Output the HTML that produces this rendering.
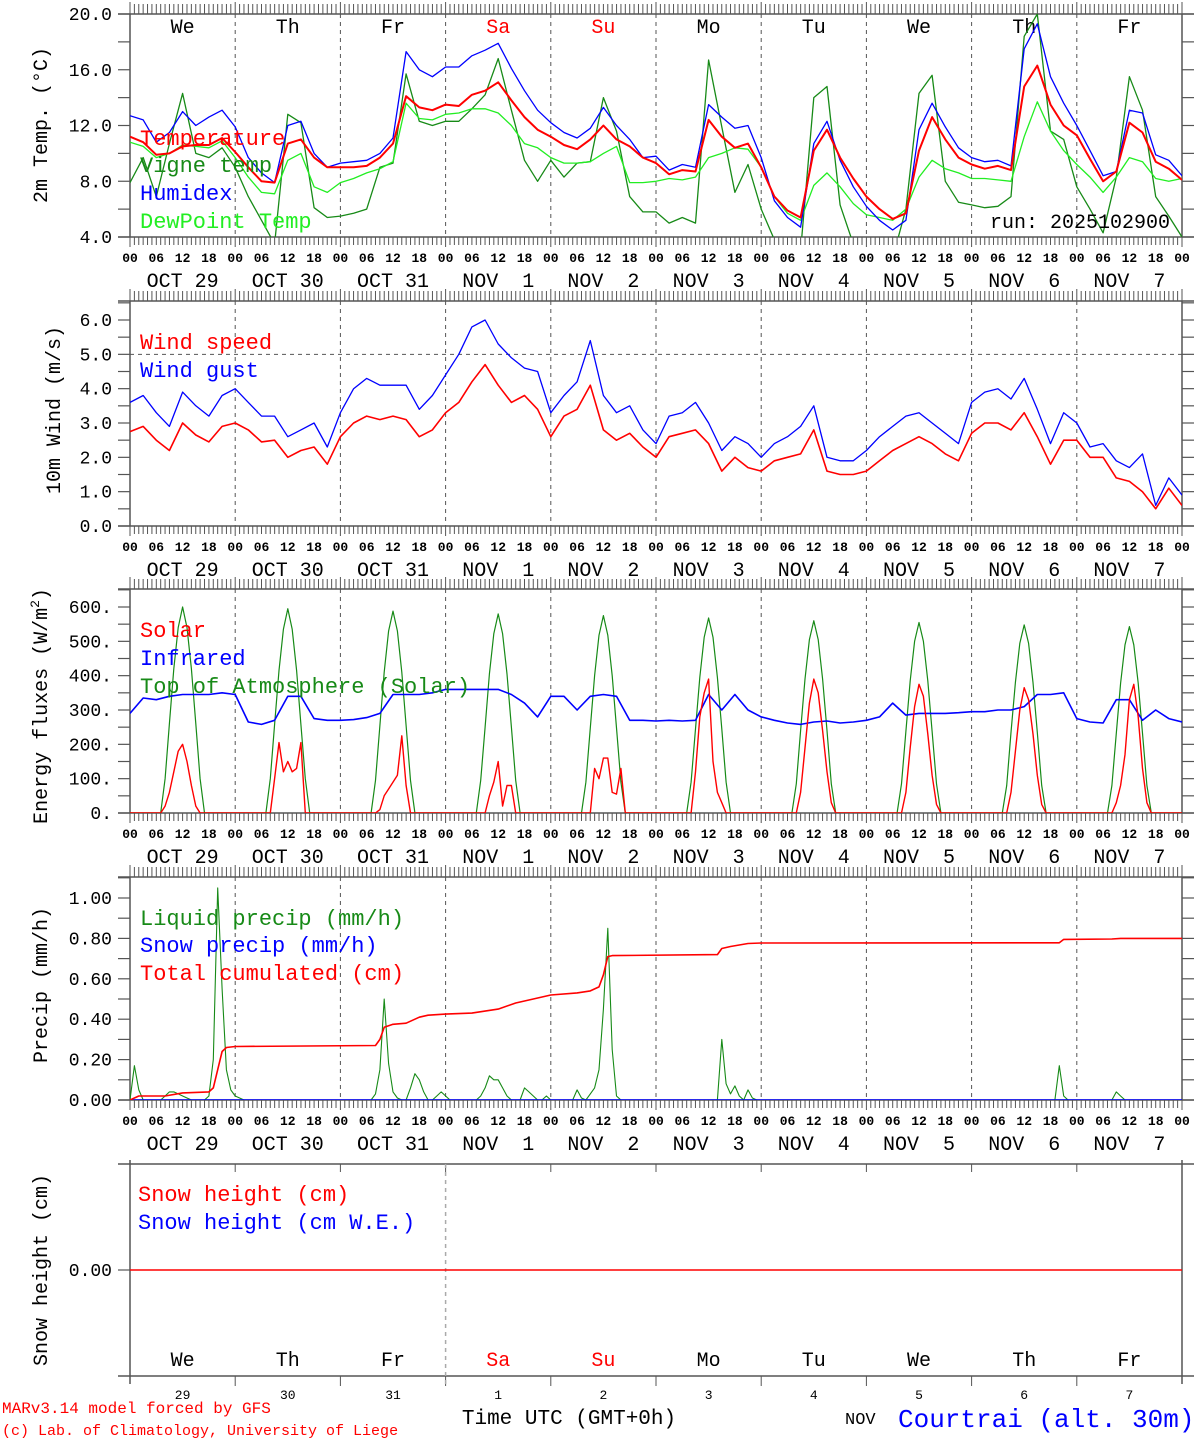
<!DOCTYPE html>
<html><head><meta charset="utf-8"><title>MAR forecast Courtrai</title>
<style>
html,body{margin:0;padding:0;background:#fff;}
svg{display:block;}
text{font-family:"Liberation Mono","DejaVu Sans Mono",monospace;white-space:pre;}
</style></head>
<body>
<svg id="c" xmlns="http://www.w3.org/2000/svg" width="1194" height="1440" viewBox="0 0 1194 1440">
<rect x="0" y="0" width="1194" height="1440" fill="#fff"/>
</svg>
<script>
// ---------- DATA (3-hourly, h = 0..240) ----------
const dayNames = ["We","Th","Fr","Sa","Su","Mo","Tu","We","Th","Fr"];
const dayColors = ["#000","#000","#000","#f00","#f00","#000","#000","#000","#000","#000"];
const dateLabels = ["OCT 29","OCT 30","OCT 31","NOV  1","NOV  2","NOV  3","NOV  4","NOV  5","NOV  6","NOV  7"];
const dayNums = ["29","30","31","1","2","3","4","5","6","7"];
const hourLabels = ["00","06","12","18"];

const temperature = [
11.2,10.8,9.9,10.0,10.5,10.6,10.6,11.1,
10.1,9.0,8.0,7.9,10.7,11.0,9.7,9.0,
9.0,9.0,9.1,9.7,10.7,14.1,13.3,13.1,
13.5,13.4,14.2,14.5,15.1,13.8,12.6,11.7,
11.2,10.6,10.3,11.0,12.0,11.0,10.5,9.7,
9.3,8.5,8.8,8.7,12.4,11.2,10.4,10.7,
9.0,6.9,5.9,5.4,10.2,11.7,9.7,8.2,
6.9,6.0,5.3,5.7,10.2,12.6,11.0,9.7,
9.2,8.9,9.1,8.8,14.8,16.3,13.5,12.0,
11.3,9.6,8.0,8.7,12.2,11.5,9.4,8.9,
8.1];
const humidex = [
12.7,12.4,10.8,11.5,13.0,12.0,12.6,13.1,
11.9,9.7,8.6,7.9,12.0,12.3,10.0,9.0,
9.3,9.4,9.5,10.0,11.1,17.3,16.0,15.5,
16.2,16.2,17.0,17.4,17.9,16.1,14.5,13.1,
12.2,11.5,11.1,11.8,13.3,12.0,11.0,9.7,
9.8,8.8,9.2,9.0,13.5,12.6,11.8,12.0,
9.7,6.6,5.4,4.7,10.7,12.3,9.5,7.6,
6.2,5.2,4.5,5.2,11.7,13.6,11.9,10.4,
9.7,9.4,9.5,9.1,17.5,19.3,15.5,13.6,
12.0,10.2,8.4,8.7,13.1,12.9,9.9,9.5,
8.4];
const dewpoint = [
10.8,10.5,9.7,10.0,10.6,10.5,10.4,10.9,
9.7,8.3,7.2,7.1,9.5,10.0,7.6,7.2,
7.9,8.2,8.6,8.9,9.4,13.6,12.5,12.4,
12.8,12.9,13.2,13.2,12.9,12.0,10.7,10.4,
9.7,9.3,9.3,9.4,10.0,10.5,7.9,7.9,
8.0,8.2,8.1,8.3,9.7,10.0,10.4,10.3,
9.0,6.9,5.7,5.2,7.7,8.6,7.6,6.4,
5.6,5.4,5.2,6.0,8.3,9.5,8.9,8.6,
8.2,8.2,8.1,8.0,11.2,13.7,11.6,10.2,
9.2,8.3,7.2,8.3,9.7,9.4,8.2,8.0,
8.2];
const vigne = [
7.9,9.7,6.9,10.7,14.3,10.0,9.7,10.4,
9.0,6.9,5.2,3.5,12.8,12.2,6.1,5.4,
5.5,5.7,6.0,9.0,9.3,15.7,12.3,12.0,
12.3,12.3,13.2,14.2,16.8,13.1,9.5,8.0,
9.5,8.3,9.3,9.4,14.0,11.6,6.9,5.8,
5.8,5.0,5.4,5.0,16.7,11.9,7.2,9.2,
6.0,3.8,3.0,3.0,14.0,14.8,6.3,3.5,
3.0,2.5,2.5,6.0,14.3,15.6,8.0,6.5,
6.3,6.1,6.2,6.9,18.4,20.0,11.6,11.0,
7.6,6.0,4.3,8.3,15.5,13.1,6.9,5.5,
4.0];

const windSpeed = [
2.75,2.9,2.5,2.2,3.0,2.65,2.45,2.9,
3.0,2.8,2.45,2.5,2.0,2.2,2.3,1.8,
2.6,3.0,3.2,3.1,3.2,3.1,2.6,2.8,
3.3,3.6,4.2,4.7,4.1,3.6,3.8,3.4,
2.6,3.2,3.4,4.1,2.8,2.5,2.7,2.3,
2.0,2.6,2.7,2.8,2.4,1.6,2.0,1.7,
1.6,1.9,2.0,2.1,2.8,1.6,1.5,1.5,
1.6,1.9,2.2,2.4,2.6,2.4,2.1,1.9,
2.7,3.0,3.0,2.8,3.3,2.6,1.8,2.5,
2.5,2.0,2.0,1.4,1.3,1.0,0.5,1.1,
0.6];
const windGust = [
3.6,3.8,3.3,2.9,3.9,3.5,3.2,3.8,
4.0,3.6,3.2,3.2,2.6,2.8,3.0,2.3,
3.3,4.0,4.3,4.1,4.1,4.1,3.4,3.8,
4.4,5.0,5.8,6.0,5.3,4.9,4.6,4.5,
3.3,3.8,4.2,5.4,3.8,3.3,3.5,2.8,
2.4,3.2,3.3,3.6,3.0,2.2,2.6,2.4,
2.0,2.4,2.6,2.9,3.5,2.0,1.9,1.9,
2.2,2.6,2.9,3.2,3.3,3.0,2.7,2.4,
3.6,3.9,4.0,3.7,4.3,3.4,2.4,3.3,
3.0,2.3,2.4,1.9,1.7,2.1,0.6,1.4,
0.9];

const infrared = [
290,335,330,340,345,345,345,350,
345,265,258,270,340,340,275,270,
270,272,278,290,345,345,345,350,
360,360,360,360,360,345,320,280,
340,340,300,340,345,340,270,270,
268,270,268,270,345,300,345,300,
280,270,262,258,265,268,262,265,
270,280,320,285,290,290,290,292,
295,295,300,300,310,345,345,350,
275,265,262,330,330,270,300,275,
265];

// Hourly daytime values per day, hours 06..18
const solarDays = [
[0,0,20,60,120,180,200,150,80,20,0,0,0],
[0,0,0,100,205,120,150,120,130,205,0,0,0],
[0,0,0,10,50,70,90,110,225,80,0,0,0],
[0,0,0,0,50,90,150,20,80,80,0,0,0],
[0,0,0,0,130,100,160,160,60,55,130,0,0],
[0,0,0,120,280,350,390,150,60,30,0,0,0],
[0,0,0,60,190,320,390,350,240,120,30,0,0],
[0,0,0,60,190,310,375,340,230,110,25,0,0],
[0,0,0,60,180,300,365,330,230,110,25,0,0],
[0,0,0,30,80,170,330,375,280,130,30,0,0]];
const toaDays = [
[0,0,100,260,420,540,600,540,420,260,100,0,0],
[0,0,100,258,415,535,595,535,415,258,100,0,0],
[0,0,95,255,410,530,588,530,410,255,95,0,0],
[0,0,95,250,405,522,580,522,405,250,95,0,0],
[0,0,90,248,400,518,575,518,400,248,90,0,0],
[0,0,90,245,395,512,568,512,395,245,90,0,0],
[0,0,85,240,390,505,560,505,390,240,85,0,0],
[0,0,85,238,385,500,555,500,385,238,85,0,0],
[0,0,80,235,380,494,548,494,380,235,80,0,0],
[0,0,80,232,378,490,543,490,378,232,80,0,0]];

// Liquid precip: hourly events (hour, mm/h); zero elsewhere
const liqHours = [1,2,8,9,10,11,12,13,18,19,20,21,22,23,24,25,56,57,58,59,60,61,64,65,66,67,70,71,72,80,81,82,83,84,85,86,90,91,92,95,102,103,105,106,107,108,109,110,111,135,136,137,138,139,141,142,212,213,225,226];
const liqValues = [0.17,0.05,0.02,0.04,0.04,0.03,0.02,0.01,0.02,0.2,1.05,0.55,0.15,0.05,0.02,0.01,0.03,0.15,0.5,0.18,0.04,0.01,0.06,0.13,0.1,0.04,0.02,0.04,0.02,0.02,0.06,0.12,0.1,0.1,0.06,0.02,0.06,0.04,0.02,0.02,0.05,0.01,0.03,0.06,0.15,0.45,0.85,0.25,0.02,0.3,0.08,0.03,0.07,0.02,0.05,0.01,0.17,0.02,0.04,0.02];
const cumHours = [0,2,8,12,18,19,20,21,22,24,56,57,58,60,63,66,68,72,78,84,88,92,96,102,105,107,108,109,110,134,135,137,141,144,212,213,224,226,240];
const cumValues = [0,0.02,0.02,0.035,0.04,0.06,0.15,0.24,0.26,0.265,0.27,0.3,0.36,0.375,0.38,0.41,0.42,0.425,0.43,0.45,0.48,0.5,0.52,0.53,0.54,0.56,0.62,0.71,0.715,0.72,0.75,0.76,0.775,0.777,0.778,0.795,0.797,0.8,0.8];

// ---------- RENDER ----------
const NS = "http://www.w3.org/2000/svg";
const svg = document.getElementById('c');
function mk(tag, attrs, parent){
  const e = document.createElementNS(NS, tag);
  for (const k in attrs) e.setAttribute(k, attrs[k]);
  (parent || svg).appendChild(e);
  return e;
}
const X0 = 130, X1 = 1182;
const xh = h => X0 + h * (X1 - X0) / 240;
const AX = "#555";

const panels = [
  {top:14,  bottom:237,  vmin:4, vmax:20},
  {top:301, bottom:526,  vmin:0, vmax:(526-301)/(206/6)},
  {top:589, bottom:813,  vmin:0, vmax:(813-589)/(206/600)},
  {top:877, bottom:1100, vmin:0, vmax:(1100-877)/202}
];
function yScale(p){ return v => p.bottom - (v - p.vmin) * (p.bottom - p.top) / (p.vmax - p.vmin); }

function addText(str, x, y, size, fill, anchor, parent){
  const t = mk('text', {x:x, y:y, 'font-size':size, fill:fill, 'text-anchor':anchor||'start'}, parent);
  t.textContent = str;
  return t;
}

function frame(p, idx){
  const g = mk('g', {});
  
  
  mk('line',{x1:118,y1:p.top,x2:1194,y2:p.top,stroke:AX,'stroke-width':1.5},g);
  mk('line',{x1:118,y1:p.bottom,x2:1194,y2:p.bottom,stroke:AX,'stroke-width':1.5},g);
  mk('line',{x1:X0,y1:p.top,x2:X0,y2:p.bottom,stroke:AX,'stroke-width':1.5},g);
  mk('line',{x1:X1,y1:p.top,x2:X1,y2:p.bottom,stroke:AX,'stroke-width':1.5},g);
  for (let h=0; h<=240; h++){
    const x = xh(h), big = h%24===0;
    mk('line',{x1:x,y1:p.top-(big?12:10),x2:x,y2:p.top,stroke:AX,'stroke-width':1},g);
    mk('line',{x1:x,y1:p.bottom,x2:x,y2:p.bottom+(big?10:8),stroke:AX,'stroke-width':1},g);
  }
  for (let d=1; d<10; d++){
    mk('line',{x1:xh(d*24),y1:p.top,x2:xh(d*24),y2:p.bottom,stroke:AX,'stroke-width':1,'stroke-dasharray':'4,4'},g);
  }
  const lab = mk('g', {});
  
  
  for (let d=0; d<10; d++){
    for (let k=0; k<4; k++){
      const t = addText(hourLabels[k], xh(d*24+k*6), p.bottom+25, 13, '#000', 'middle', lab);
      t.setAttribute('font-weight','bold');
    }
    addText(dateLabels[d], xh(d*24+12), p.bottom+50, 20, '#000', 'middle', lab);
  }
  const t = addText("00", xh(240), p.bottom+25, 13, '#000', 'middle', lab);
  t.setAttribute('font-weight','bold');
  const cp = mk('clipPath', {id:'clip'+idx});
  mk('rect',{x:X0,y:p.top,width:X1-X0,height:p.bottom-p.top},cp);
}

function yTicks(p, idx, ticks, fmt, minorStep){
  const y = yScale(p);
  const g = mk('g', {});
  
  
  for (let v=p.vmin; v<=p.vmax+1e-9; v+=minorStep){
    const yy = y(v);
    if (yy < p.top-0.5) continue;
    mk('line',{x1:118,y1:yy,x2:X0,y2:yy,stroke:AX,'stroke-width':1.2},g);
    mk('line',{x1:X1,y1:yy,x2:1194,y2:yy,stroke:AX,'stroke-width':1.2},g);
  }
  ticks.forEach(v => addText(fmt(v), 112, y(v)+6, 18, '#000', 'end', g));
}

function yTitle(str, cx, cy, name){
  const t = mk('text',{x:0,y:0,'font-size':20,fill:'#000','text-anchor':'middle',transform:'translate('+(cx+7)+','+cy+') rotate(-90)'});
  t.textContent = str;
  
  
  return t;
}

function seriesPath(hours, vals, yf, color, width, idx, name){
  let d = '';
  for (let i=0;i<vals.length;i++) d += (i?'L':'M') + xh(hours[i]).toFixed(1) + ',' + yf(vals[i]).toFixed(1);
  const p = mk('path',{d:d,fill:'none',stroke:color,'stroke-width':width,'stroke-linejoin':'round','clip-path':'url(#clip'+idx+')'});
  
  
  return p;
}
const h3 = temperature.map((_,i)=>i*3);
function hourlyFromDays(days){
  const hrs=[], vals=[];
  for (let h=0; h<=240; h++){
    const d = Math.floor(h/24), hh = h%24;
    hrs.push(h);
    vals.push(d<10 && hh>=6 && hh<=18 ? days[d][hh-6] : 0);
  }
  return [hrs, vals];
}
function legend(str, x, y, color, name){
  const t = addText(str, x, y, 22, color, 'start');
  
  
}

// Panel 1: temperature
(function(){
  const p = panels[0], idx = 0, y = yScale(p);
  frame(p, idx);
  yTicks(p, idx, [4,8,12,16,20], v=>v.toFixed(1), 2);
  yTitle("2m Temp. (°C)", 40, 125, 'y-axis-title-temperature');
  const dn = mk('g',{});
  
  
  for (let d=0; d<10; d++) addText(dayNames[d], xh(d*24+12), 33, 20, dayColors[d], 'middle', dn);
  seriesPath(h3, vigne, y, '#178a17', 1.3, idx, 'vigne-temp-line');
  seriesPath(h3, dewpoint, y, '#22ee22', 1.3, idx, 'dewpoint-line');
  seriesPath(h3, humidex, y, '#0000ff', 1.3, idx, 'humidex-line');
  seriesPath(h3, temperature, y, '#ff0000', 2, idx, 'temperature-line');
  legend("Temperature", 140, 145, '#ff0000', 'legend-temperature');
  legend("Vigne temp", 140, 172, '#178a17', 'legend-vigne-temp');
  legend("Humidex", 140, 200, '#0000ff', 'legend-humidex');
  legend("DewPoint Temp", 140, 228, '#22ee22', 'legend-dewpoint');
  const r = addText("run: 2025102900", 1170, 228, 20, '#000', 'end');
  
  
})();

// Panel 2: wind
(function(){
  const p = panels[1], idx = 1, y = yScale(p);
  frame(p, idx);
  yTicks(p, idx, [0,1,2,3,4,5,6], v=>v.toFixed(1), 0.5);
  yTitle("10m Wind (m/s)", 53, 410, 'y-axis-title-wind');
  const ref = mk('line',{x1:X0,y1:y(5),x2:X1,y2:y(5),stroke:AX,'stroke-width':1,'stroke-dasharray':'4,4'});
  
  
  seriesPath(h3, windGust, y, '#0000ff', 1.3, idx, 'wind-gust-line');
  seriesPath(h3, windSpeed, y, '#ff0000', 1.6, idx, 'wind-speed-line');
  legend("Wind speed", 140, 349, '#ff0000', 'legend-wind-speed');
  legend("Wind gust", 140, 377, '#0000ff', 'legend-wind-gust');
})();

// Panel 3: energy
(function(){
  const p = panels[2], idx = 2, y = yScale(p);
  frame(p, idx);
  yTicks(p, idx, [0,100,200,300,400,500,600], v=>v.toFixed(0)+'.', 50);
  const t = yTitle("Energy fluxes (W/m", 40, 706, 'y-axis-title-energy');
  const sup = mk('tspan',{'font-size':13,dy:-8},t); sup.textContent = '2';
  const cl = mk('tspan',{dy:8},t); cl.textContent = ')';
  const toa = hourlyFromDays(toaDays), sol = hourlyFromDays(solarDays);
  seriesPath(toa[0], toa[1], y, '#178a17', 1.2, idx, 'toa-solar-line');
  seriesPath(h3, infrared, y, '#0000ff', 1.6, idx, 'infrared-line');
  seriesPath(sol[0], sol[1], y, '#ff0000', 1.4, idx, 'solar-line');
  legend("Solar", 140, 637, '#ff0000', 'legend-solar');
  legend("Infrared", 140, 665, '#0000ff', 'legend-infrared');
  legend("Top of Atmosphere (Solar)", 140, 693, '#178a17', 'legend-toa');
})();

// Panel 4: precip
(function(){
  const p = panels[3], idx = 3, y = yScale(p);
  frame(p, idx);
  yTicks(p, idx, [0,0.2,0.4,0.6,0.8,1.0], v=>v.toFixed(2), 0.1);
  yTitle("Precip (mm/h)", 40, 985, 'y-axis-title-precip');
  const hrs=[], vals=[];
  for (let h=0; h<=240; h++){ hrs.push(h); const k = liqHours.indexOf(h); vals.push(k>=0 ? liqValues[k] : 0); }
  seriesPath(hrs, vals, y, '#178a17', 1.1, idx, 'liquid-precip-line');
  seriesPath([0,240], [0,0], y, '#0000ff', 1.6, idx, 'snow-precip-line');
  seriesPath(cumHours, cumValues, y, '#ff0000', 1.6, idx, 'cumulated-precip-line');
  legend("Liquid precip (mm/h)", 140, 925, '#178a17', 'legend-liquid-precip');
  legend("Snow precip (mm/h)", 140, 952, '#0000ff', 'legend-snow-precip');
  legend("Total cumulated (cm)", 140, 980, '#ff0000', 'legend-total-cumulated');
})();

// Panel 5: snow height
(function(){
  const top = 1164, bottom = 1376;
  const g = mk('g',{});
  
  
  mk('line',{x1:118,y1:top,x2:1194,y2:top,stroke:AX,'stroke-width':1.5},g);
  mk('line',{x1:118,y1:bottom,x2:1194,y2:bottom,stroke:AX,'stroke-width':1.5},g);
  mk('line',{x1:X0,y1:top-4,x2:X0,y2:bottom+8,stroke:AX,'stroke-width':1.5},g);
  mk('line',{x1:X1,y1:top-4,x2:X1,y2:bottom+8,stroke:AX,'stroke-width':1.5},g);
  for (let d=1; d<10; d++){
    mk('line',{x1:xh(d*24),y1:top,x2:xh(d*24),y2:top+8,stroke:AX,'stroke-width':1},g);
    mk('line',{x1:xh(d*24),y1:bottom,x2:xh(d*24),y2:bottom+10,stroke:AX,'stroke-width':1},g);
  }
  mk('line',{x1:xh(72),y1:top,x2:xh(72),y2:bottom+10,stroke:'#aaa','stroke-width':1.5,'stroke-dasharray':'4,4'},g);
  mk('line',{x1:118,y1:1270,x2:X0,y2:1270,stroke:AX,'stroke-width':1.2},g);
  addText("0.00", 112, 1276, 18, '#000', 'end', g);
  yTitle("Snow height (cm)", 40, 1270, 'y-axis-title-snow');
  const sl = mk('line',{x1:X0,y1:1270,x2:X1,y2:1270,stroke:'#ff0000','stroke-width':1.5});
  
  
  legend("Snow height (cm)", 138, 1201, '#ff0000', 'legend-snow-height');
  legend("Snow height (cm W.E.)", 138, 1229, '#0000ff', 'legend-snow-height-we');
  const dl = mk('g',{});
  
  
  for (let d=0; d<10; d++){
    addText(dayNames[d], xh(d*24+12), 1366, 20, dayColors[d], 'middle', dl);
    addText(dayNums[d], xh(d*24+12), 1399, 13, '#000', 'middle', dl);
  }
})();

// Footer
(function(){
  const f = mk('g',{});
  
  
  addText("MARv3.14 model forced by GFS", 2, 1413, 16, '#ff0000', 'start', f);
  addText("(c) Lab. of Climatology, University of Liege", 2, 1435, 15, '#ff0000', 'start', f);
  const tt = addText("Time UTC (GMT+0h)", 569, 1424, 21, '#000', 'middle');
  
  
  addText("NOV", 845, 1424, 17, '#000', 'start', f);
  const loc = addText("Courtrai (alt. 30m)", 898, 1427, 26, '#0000ff', 'start');
  
  
})();
</script>
</body></html>
